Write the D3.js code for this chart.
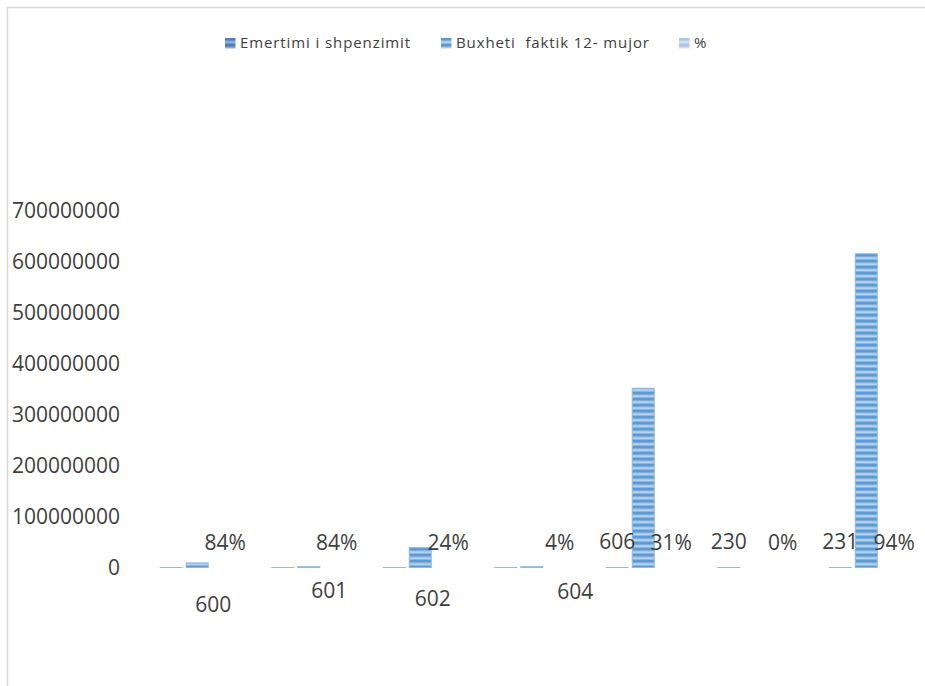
<!DOCTYPE html>
<html><head><meta charset="utf-8">
<script src="https://cdn.jsdelivr.net/npm/d3@7"></script>
<style>
html,body{margin:0;padding:0;background:#fff;}
text{font-family:"Open Sans",sans-serif;fill:#404040;}
</style></head>
<body>
<svg id="chart" width="925" height="686"></svg>
<script>
// ---- data ----
const categories = ["1","2","3","4","5","6","7"];
const seriesNames = ["Emertimi i shpenzimit", "Buxheti  faktik 12- mujor", "%"];
const emertimi = [600, 601, 602, 604, 606, 230, 231];
const buxheti = [9000000, 1500000, 39000000, 1500000, 352000000, 0, 616000000];
const percent = [0.84, 0.84, 0.24, 0.04, 0.31, 0, 0.94];
const yTicks = [0, 100000000, 200000000, 300000000, 400000000, 500000000, 600000000, 700000000];
// manual label offsets (Excel moved labels) for series 1
const labelShiftX = [42, 46.5, 38.5, 69.5, 0, 0, 0];
const labelShiftY = [62.5, 48.5, 56.5, 49.5, 0, 0, 0];

const seriesValues = [emertimi, buxheti, percent];
const colors = [
  {dark:"#4a7ebb", light:"#93b3dc", stroke:"#9db8da"},
  {dark:"#5b9bd5", light:"#b7d1ec", stroke:"#8fb9e2"},
  {dark:"#a9c5e8", light:"#d3e1f3", stroke:"none"}
];

const svg = d3.select("#chart");
const defs = svg.append("defs");
colors.forEach((c,i)=>{
  const p = defs.append("pattern").attr("id","stripe"+i)
    .attr("patternUnits","userSpaceOnUse").attr("width",8).attr("height",6)
    .attr("y", 1.5);
  p.append("rect").attr("width",8).attr("height",6).attr("fill",c.light);
  p.append("rect").attr("width",8).attr("height",3.3).attr("fill",c.dark);
});

// chart border
svg.append("path").attr("d","M7.5,686 V7.5 H925").attr("fill","none")
  .attr("stroke","#d9d9d9").attr("stroke-width",1.5);

const x0 = d3.scaleBand().domain(categories).range([141.5, 922]).paddingInner(0).paddingOuter(0);
const x1 = d3.scaleBand().domain([0,1,2]).range([18.75, 92.75]).paddingInner(4/26).paddingOuter(0);
const y = d3.scaleLinear().domain([0, 700000000]).range([567.5, 211]);

// y axis labels
const yAxis = d3.axisLeft(y).tickValues(yTicks).tickFormat(d3.format("d")).tickSize(0).tickPadding(0);
const ga = svg.append("g").attr("transform","translate(120,0)").call(yAxis);
ga.select(".domain").remove();
ga.selectAll("text").attr("font-size",21).attr("font-family","Open Sans").attr("fill","#404040");

// bars
const groups = svg.append("g").selectAll("g").data(categories).join("g")
  .attr("transform", d=>`translate(${x0(d)},0)`);
groups.each(function(cat, ci){
  const g = d3.select(this);
  seriesValues.forEach((vals, si)=>{
    const v = vals[ci];
    if (!(v > 0)) return;
    g.append("rect")
      .attr("x", x1(si)).attr("width", x1.bandwidth())
      .attr("y", y(v)).attr("height", y(0)-y(v))
      .attr("fill", `url(#stripe${si})`)
      .attr("stroke", colors[si].stroke).attr("stroke-width", 1);
  });
});

// data labels
const lbl = svg.append("g").attr("font-size",21);
categories.forEach((cat, ci)=>{
  lbl.append("text")
    .attr("x", x0(cat) + x1(0) + x1.bandwidth()/2 + labelShiftX[ci])
    .attr("y", y(emertimi[ci]) - 18 + labelShiftY[ci])
    .attr("text-anchor","middle").text(emertimi[ci]);
  lbl.append("text")
    .attr("x", x0(cat) + x1(2) + x1.bandwidth()/2 + 2)
    .attr("y", y(percent[ci]) - 18)
    .attr("text-anchor","middle").text(d3.format(".0%")(percent[ci]));
});

// legend
const legendX = [225, 441, 679];
const leg = svg.append("g");
seriesNames.forEach((name,i)=>{
  leg.append("rect").attr("x",legendX[i]).attr("y",38).attr("width",10.5).attr("height",10.5)
    .attr("fill",`url(#stripe${i})`);
  leg.append("text").attr("x",legendX[i]+15).attr("y",47.5)
    .attr("font-size",15).attr("letter-spacing",0.9).style("white-space","pre").text(name);
});
</script>
</body></html>
